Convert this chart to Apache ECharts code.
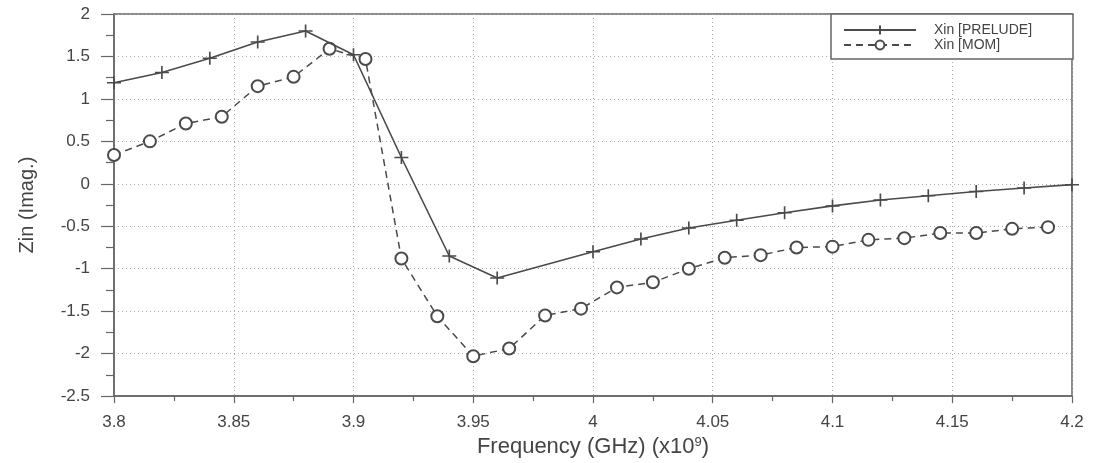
<!DOCTYPE html>
<html>
<head>
<meta charset="utf-8">
<title>Zin (Imag.)</title>
<script src="https://cdn.jsdelivr.net/npm/echarts@6/dist/echarts.min.js"></script>
<style>
  html, body { margin: 0; padding: 0; background: #fff; }
  #chart { width: 1093px; height: 463px; }
</style>
</head>
<body>
<div id="chart"></div>
<script>
// Imaginary part of the input impedance versus frequency (GHz, x1e9)
const preludeFreq = [3.80, 3.82, 3.84, 3.86, 3.88, 3.90, 3.92, 3.94, 3.96, 4.00,
                     4.02, 4.04, 4.06, 4.08, 4.10, 4.12, 4.14, 4.16, 4.18, 4.20];
const preludeXin  = [1.19, 1.31, 1.48, 1.67, 1.80, 1.52, 0.31, -0.85, -1.11, -0.80,
                     -0.65, -0.52, -0.43, -0.34, -0.26, -0.19, -0.14, -0.09, -0.05, -0.01];

const momFreq = [3.800, 3.815, 3.830, 3.845, 3.860, 3.875, 3.890, 3.905, 3.920, 3.935,
                 3.950, 3.965, 3.980, 3.995, 4.010, 4.025, 4.040, 4.055, 4.070, 4.085,
                 4.100, 4.115, 4.130, 4.145, 4.160, 4.175, 4.190];
const momXin  = [0.34, 0.50, 0.71, 0.79, 1.15, 1.26, 1.59, 1.47, -0.88, -1.56,
                 -2.03, -1.94, -1.55, -1.47, -1.22, -1.16, -1.00, -0.87, -0.84, -0.75,
                 -0.74, -0.66, -0.64, -0.58, -0.58, -0.53, -0.51];

const seriesNames = ['Xin [PRELUDE]', 'Xin [MOM]'];

const ink = '#4a4a4a';
const frame = '#666';
const font = '"Liberation Sans", Arial, Helvetica, sans-serif';

const pairs = (xs, ys) => xs.map((x, i) => [x, ys[i]]);

const chart = echarts.init(document.getElementById('chart'), null, { renderer: 'canvas' });

chart.setOption({
  animation: false,
  backgroundColor: '#fff',
  grid: {
    left: 114, right: 21, top: 14, bottom: 62,
    show: true, borderColor: frame, borderWidth: 1.5, backgroundColor: 'transparent'
  },
  legend: {
    orient: 'vertical',
    left: 831, top: 14,
    backgroundColor: '#fff',
    borderColor: frame, borderWidth: 1.5, borderRadius: 0,
    padding: [9, 13, 7, 12],
    itemWidth: 72, itemHeight: 11, itemGap: 1,
    textStyle: {
      fontFamily: font, fontSize: 14, lineHeight: 13, color: '#444',
      rich: {
        n: { fontFamily: font, fontSize: 14, lineHeight: 13, color: '#444', width: 126, padding: [0, 0, 0, 13] }
      }
    },
    formatter: '{n|{name}}',
    data: seriesNames
  },
  xAxis: {
    type: 'value',
    min: 3.8, max: 4.2, interval: 0.05,
    name: '{t|Frequency (GHz) (x10}{s|9}{t|)}',
    nameLocation: 'middle', nameGap: 28,
    nameTextStyle: {
      rich: {
        t: { fontFamily: font, fontSize: 22, color: '#444' },
        s: { fontFamily: font, fontSize: 13, color: '#444', verticalAlign: 'top', padding: [0, 0, 8, 0] }
      }
    },
    axisLine: { onZero: false, lineStyle: { color: frame, width: 1.5 } },
    axisTick: { show: true, inside: false, length: 7, lineStyle: { color: frame, width: 1.2 } },
    minorTick: { show: true, splitNumber: 2, length: 5, lineStyle: { color: frame, width: 1.2 } },
    axisLabel: { fontFamily: font, fontSize: 17, color: '#444', margin: 18 },
    splitLine: { show: true, lineStyle: { color: '#aaa', type: [1, 3], width: 1 } },
    minorSplitLine: { show: false }
  },
  yAxis: {
    type: 'value',
    min: -2.5, max: 2, interval: 0.5,
    name: 'Zin (Imag.)',
    nameLocation: 'middle', nameGap: 77,
    nameTextStyle: { fontFamily: font, fontSize: 20, color: '#444' },
    axisLine: { show: true, onZero: false, lineStyle: { color: frame, width: 1.5 } },
    axisTick: { show: true, inside: false, length: 13, lineStyle: { color: frame, width: 1.2 } },
    minorTick: { show: true, splitNumber: 2, length: 8, lineStyle: { color: frame, width: 1.2 } },
    axisLabel: { fontFamily: font, fontSize: 17, color: '#444', margin: 24 },
    splitLine: { show: true, lineStyle: { color: '#aaa', type: [1, 3], width: 1 } },
    minorSplitLine: { show: false }
  },
  series: [
    {
      name: seriesNames[0],
      type: 'line',
      data: pairs(preludeFreq, preludeXin),
      symbol: 'path://M5,0L5,10M0,5L10,5',
      symbolSize: [14, 13],
      lineStyle: { color: ink, width: 1.6, type: 'solid' },
      itemStyle: { color: ink, borderColor: ink, borderWidth: 1.6 },
      z: 3
    },
    {
      name: seriesNames[1],
      type: 'line',
      data: pairs(momFreq, momXin),
      symbol: 'emptyCircle',
      symbolSize: 12,
      lineStyle: { color: ink, width: 1.5, type: [7, 5] },
      itemStyle: { color: ink, borderColor: ink, borderWidth: 1.6 },
      z: 2
    }
  ]
});
</script>
</body>
</html>
